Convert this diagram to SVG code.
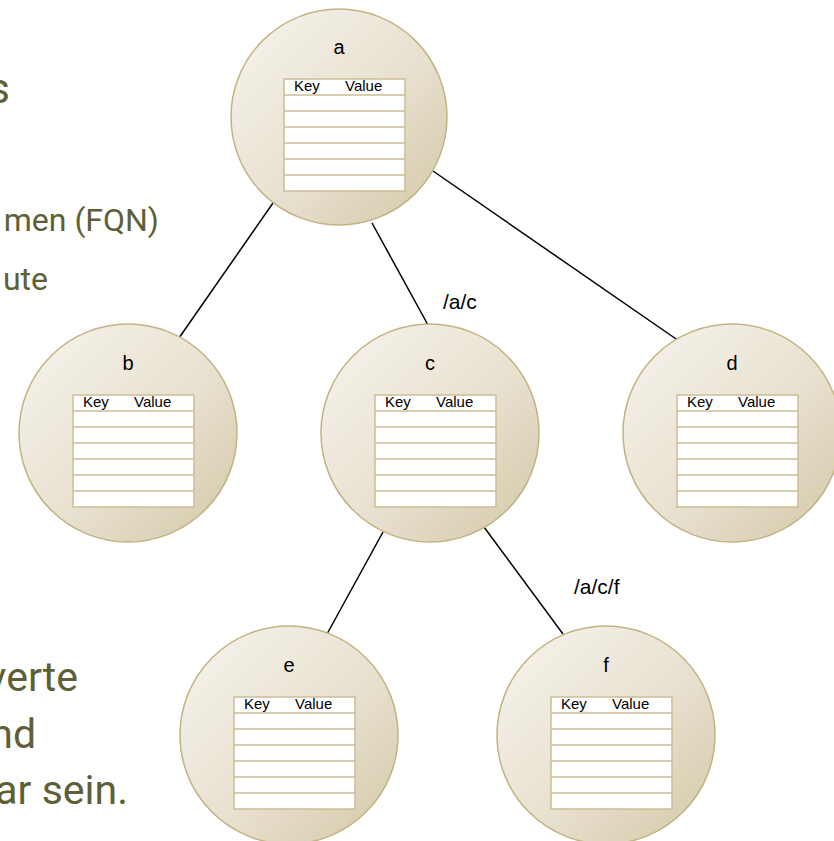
<svg xmlns="http://www.w3.org/2000/svg" xmlns:xlink="http://www.w3.org/1999/xlink" width="834" height="841" viewBox="0 0 834 841">
  <style>
    .side { font-family: Roboto, "Liberation Sans", sans-serif; fill: #5e5f37; text-anchor: end; }
    .lbl { font-family: "Liberation Sans", Arial, sans-serif; font-size: 20px; fill: #000; text-anchor: middle; }
    .path { font-family: "Liberation Sans", Arial, sans-serif; font-size: 21px; fill: #000; }
    .hdr { font-family: "Liberation Sans", Arial, sans-serif; font-size: 15px; fill: #000; }
    .node { fill: url(#ball); stroke: #c3b383; stroke-width: 1.5; }
    .edge { stroke: #000; stroke-width: 1.5; fill: none; }
    .cell { fill: #fff; stroke: #cbbd95; stroke-width: 1.5; }
  </style>
  <defs>
    <linearGradient id="ball" x1="0" y1="0" x2="1" y2="1">
      <stop offset="0.15" stop-color="#f3efe6"/>
      <stop offset="0.55" stop-color="#e8e1d0"/>
      <stop offset="1" stop-color="#d3c7a6"/>
    </linearGradient>
    <!-- key/value table, origin at node centre -->
    <g id="kv">
      <rect class="cell" x="-55" y="-38" width="121" height="112"/>
      <path class="cell" d="M-55 -22H66M-55 -6H66M-55 10H66M-55 26H66M-55 42H66M-55 58H66"/>
      <text class="hdr" x="-45" y="-26">Key</text>
      <text class="hdr" x="6" y="-26">Value</text>
    </g>
  </defs>

  <rect width="834" height="841" fill="#fff"/>

  <!-- slide text behind the tree -->
  <g id="side-text">
    <text class="side" x="10" y="103" font-size="42">s</text>
    <text class="side" x="159" y="231" font-size="32">men (FQN)</text>
    <text class="side" x="48" y="290" font-size="32">ute</text>
    <text class="side" x="78" y="691" font-size="41">verte</text>
    <text class="side" x="36" y="748" font-size="41">nd</text>
    <text class="side" x="128" y="804" font-size="41">ar sein.</text>
  </g>

  <g id="connectors">
    <line class="edge" x1="273" y1="203" x2="179" y2="338"/>
    <line class="edge" x1="372" y1="223" x2="428" y2="325"/>
    <line class="edge" x1="433" y1="171" x2="679" y2="341"/>
    <line class="edge" x1="383" y1="532" x2="327" y2="634"/>
    <line class="edge" x1="484" y1="527" x2="563" y2="634"/>
    <text class="path" x="443" y="309">/a/c</text>
    <text class="path" x="574" y="594">/a/c/f</text>
  </g>

  <g id="node-a" transform="translate(339,117)">
    <circle class="node" r="108"/>
    <text class="lbl" y="-63">a</text>
    <use xlink:href="#kv"/>
  </g>
  <g id="node-b" transform="translate(128,433)">
    <circle class="node" r="109"/>
    <text class="lbl" y="-63">b</text>
    <use xlink:href="#kv"/>
  </g>
  <g id="node-c" transform="translate(430,433)">
    <circle class="node" r="109"/>
    <text class="lbl" y="-63">c</text>
    <use xlink:href="#kv"/>
  </g>
  <g id="node-d" transform="translate(732,433)">
    <circle class="node" r="109"/>
    <text class="lbl" y="-63">d</text>
    <use xlink:href="#kv"/>
  </g>
  <g id="node-e" transform="translate(289,735)">
    <circle class="node" r="109"/>
    <text class="lbl" y="-63">e</text>
    <use xlink:href="#kv"/>
  </g>
  <g id="node-f" transform="translate(606,735)">
    <circle class="node" r="109"/>
    <text class="lbl" y="-63">f</text>
    <use xlink:href="#kv"/>
  </g>
</svg>
